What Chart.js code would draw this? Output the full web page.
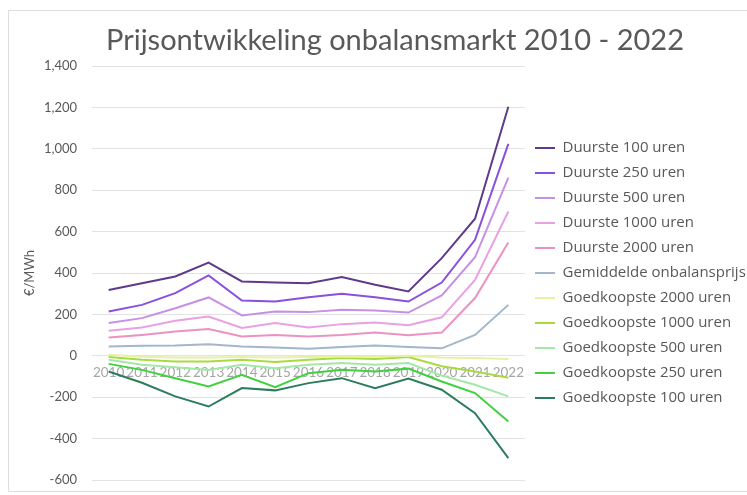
<!DOCTYPE html>
<html>
<head>
<meta charset="utf-8">
<title>Prijsontwikkeling onbalansmarkt</title>
<script src="https://cdn.jsdelivr.net/npm/chart.js@4/dist/chart.umd.min.js"></script>
<style>
    html, body { margin: 0; padding: 0; background: #fff; overflow: hidden; }
    #wrap { position: relative; width: 747px; height: 495px; }
    #frame {
        position: absolute; left: 8px; top: 10px; width: 760px; height: 480px;
        border: 1px solid #dedede; pointer-events: none;
    }
</style>
</head>
<body>
<div id="wrap">
    <canvas id="onbalansChart" width="747" height="495"></canvas>
    <div id="frame"></div>
</div>
<script>
const years = ['2010', '2011', '2012', '2013', '2014', '2015', '2016', '2017', '2018', '2019', '2020', '2021', '2022'];

// €/MWh
const duurste100 = [318, 350, 383, 450, 359, 354, 351, 380, 343, 311, 472, 662, 1203];
const duurste250 = [214, 246, 303, 388, 267, 262, 283, 300, 283, 262, 354, 560, 1024];
const duurste500 = [158, 182, 230, 282, 195, 214, 211, 222, 219, 209, 292, 476, 861];
const duurste1000 = [121, 137, 169, 190, 134, 158, 137, 153, 161, 148, 186, 367, 697];
const duurste2000 = [88, 101, 117, 129, 93, 101, 93, 101, 113, 99, 112, 279, 547];
const gemiddeld = [45, 48, 50, 56, 45, 40, 34, 42, 50, 43, 36, 101, 246];
const goedkoopste2000 = [5, -5, -8, -8, -6, -8, -6, -3, -5, 0, -8, -11, -16];
const goedkoopste1000 = [-6, -19, -27, -27, -19, -30, -19, -11, -16, -6, -50, -76, -106];
const goedkoopste500 = [-19, -43, -55, -68, -43, -60, -43, -35, -43, -35, -96, -140, -196];
const goedkoopste250 = [-39, -68, -108, -148, -92, -152, -84, -68, -76, -62, -124, -180, -317];
const goedkoopste100 = [-76, -130, -196, -245, -156, -167, -132, -108, -156, -110, -164, -277, -494];

const yMin = -600;
const yMax = 1400;
const yStep = 200;

const OnbalansChart = {
    init: function() {
        this.drawChart();
    },

    makeSet: function(label, data, color) {
        return {
            label: label,
            data: data,
            borderColor: color,
            backgroundColor: color,
            borderWidth: 2,
            pointRadius: 0,
            pointHoverRadius: 0,
            tension: 0,
            fill: false
        };
    },

    drawChart: function() {
        const canvas = document.getElementById('onbalansChart');
        if (!canvas) return;

        // titel zelf tekenen: staat niet precies boven het midden van het canvas
        const titlePlugin = {
            id: 'vrijeTitel',
            afterDraw: function(chart) {
                const ctx = chart.ctx;
                ctx.save();
                ctx.font = '29px Lato';
                ctx.fillStyle = '#595959';
                ctx.textAlign = 'center';
                ctx.textBaseline = 'middle';
                ctx.fillText('Prijsontwikkeling onbalansmarkt 2010 - 2022', 395, 41);
                ctx.restore();
            }
        };

        new Chart(canvas.getContext('2d'), {
            type: 'line',
            data: {
                labels: years,
                datasets: [
                    this.makeSet('Duurste 100 uren', duurste100, '#5e3a8a'),
                    this.makeSet('Duurste 250 uren', duurste250, '#8a4fdc'),
                    this.makeSet('Duurste 500 uren', duurste500, '#c690e4'),
                    this.makeSet('Duurste 1000 uren', duurste1000, '#eaa0e4'),
                    this.makeSet('Duurste 2000 uren', duurste2000, '#ec92c0'),
                    this.makeSet('Gemiddelde onbalansprijs', gemiddeld, '#a3b6ca'),
                    this.makeSet('Goedkoopste 2000 uren', goedkoopste2000, '#e4f2a4'),
                    this.makeSet('Goedkoopste 1000 uren', goedkoopste1000, '#a9da42'),
                    this.makeSet('Goedkoopste 500 uren', goedkoopste500, '#a2e8a6'),
                    this.makeSet('Goedkoopste 250 uren', goedkoopste250, '#3fd13f'),
                    this.makeSet('Goedkoopste 100 uren', goedkoopste100, '#2b7d5b')
                ]
            },
            options: {
                responsive: false,
                animation: false,
                layout: {
                    padding: { top: 66, left: 22, right: 0, bottom: 15 }
                },
                plugins: {
                    title: { display: false },
                    tooltip: { enabled: false },
                    legend: {
                        position: 'right',
                        maxWidth: 222,
                        labels: {
                            usePointStyle: true,
                            pointStyle: 'line',
                            pointStyleWidth: 20,
                            padding: 10,
                            color: '#595959',
                            font: { family: 'Open Sans', size: 15 }
                        }
                    }
                },
                scales: {
                    x: {
                        position: { y: 0 },
                        offset: true,
                        grid: { display: false, drawTicks: false },
                        border: { display: false },
                        ticks: {
                            autoSkip: false,
                            maxRotation: 0,
                            padding: 9,
                            color: '#a6a6a6',
                            font: { family: 'Lato', size: 13.5 }
                        },
                        // as ligt op 0, mag geen ruimte innemen
                        afterFit: function(scale) {
                            scale.height = 0;
                            scale.paddingLeft = 0;
                            scale.paddingRight = 0;
                        }
                    },
                    y: {
                        min: yMin,
                        max: yMax,
                        grid: { color: '#e2e2e2', lineWidth: 1, drawTicks: false },
                        border: { display: false },
                        ticks: {
                            stepSize: yStep,
                            padding: 15,
                            color: '#595959',
                            font: { family: 'Lato', size: 13 },
                            callback: function(value) {
                                return value.toLocaleString('en-US');
                            }
                        },
                        title: {
                            display: true,
                            text: '€/MWh',
                            color: '#595959',
                            padding: { top: 0, bottom: 5 },
                            font: { family: 'Lato', size: 13 }
                        },
                        afterFit: function(scale) {
                            scale.width = 70;
                            scale.paddingTop = 0;
                            scale.paddingBottom = 0;
                        }
                    }
                }
            },
            plugins: [titlePlugin]
        });
    }
};

document.addEventListener('DOMContentLoaded', function() {
    OnbalansChart.init();
});
</script>
</body>
</html>
